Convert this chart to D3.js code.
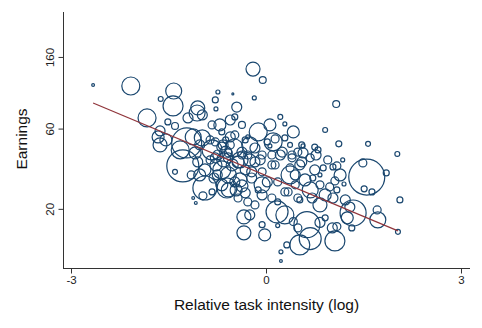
<!DOCTYPE html>
<html>
<head>
<meta charset="utf-8">
<script src="https://cdn.jsdelivr.net/npm/d3@7"></script>
<style>
  body { margin: 0; background: #fff; }
  text { font-family: "Liberation Sans", Arial, Helvetica, sans-serif; }
</style>
</head>
<body>
<svg id="chart" width="482" height="328"></svg>
<script>
var xTicks = [-3, 0, 3];
var yTicks = [20, 60, 160];
var xTitle = "Relative task intensity (log)";
var yTitle = "Earnings";

// [relative task intensity (log), earnings, weight]
var bubbles = [
  [-2.66, 109.0, 2], [-2.08, 107.5, 81], [-1.42, 100.4, 64], [-1.62, 90.0, 6],
  [-1.83, 69.4, 81], [-1.43, 81.8, 100], [-1.06, 74.3, 64], [-1.63, 58.1, 25],
  [-1.66, 53.5, 36], [-1.54, 51.4, 36], [-1.22, 49.3, 225], [-1.28, 36.0, 256],
  [-1.12, 53.5, 64], [-1.40, 33.2, 6], [-1.09, 43.0, 36], [-1.40, 62.2, 12],
  [-1.20, 69.4, 25], [-1.51, 65.7, 9], [-0.94, 26.6, 144], [-1.12, 23.2, 2],
  [-1.08, 21.7, 2], [-0.97, 23.9, 16], [-0.20, 135.6, 49], [-0.05, 116.7, 12],
  [-0.51, 96.4, 1], [-0.18, 91.3, 4], [-0.74, 99.0, 4], [-0.78, 88.8, 9],
  [-0.45, 80.6, 25], [-0.77, 78.5, 4], [-1.05, 79.6, 49], [-0.48, 70.4, 9],
  [0.22, 70.4, 6], [0.29, 64.0, 4], [-0.37, 63.1, 12], [-0.71, 63.1, 36],
  [-0.12, 57.3, 81], [0.42, 57.3, 36], [0.14, 52.1, 16], [0.29, 52.8, 9],
  [-0.28, 53.5, 4], [0.02, 50.0, 9], [0.06, 47.3, 4], [-0.17, 46.0, 25],
  [0.49, 43.5, 16], [0.55, 48.0, 9], [1.08, 84.0, 12], [0.91, 58.9, 6],
  [1.12, 48.7, 9], [1.57, 48.7, 6], [2.02, 42.4, 6], [-0.98, 72.3, 25],
  [-0.68, 46.6, 25], [-0.62, 43.5, 36], [-0.74, 41.8, 25], [-0.55, 48.0, 16],
  [-0.65, 39.1, 49], [-0.52, 36.5, 36], [-0.77, 36.5, 36], [-0.58, 31.8, 64],
  [-0.40, 29.7, 49], [-0.80, 30.5, 25], [-0.68, 27.8, 36], [-0.46, 25.9, 36],
  [-0.32, 34.1, 25], [-0.25, 39.1, 36], [-0.37, 41.8, 16], [-0.09, 39.1, 25],
  [-0.22, 30.5, 25], [-0.43, 23.2, 16], [-0.58, 25.9, 49], [-0.86, 39.1, 16],
  [-0.94, 34.1, 36], [-1.02, 48.0, 25], [-0.86, 51.4, 16], [-0.48, 55.0, 16],
  [-0.68, 57.3, 9], [-0.83, 63.1, 16], [-0.06, 33.2, 16], [0.09, 36.5, 16],
  [0.02, 28.9, 25], [0.37, 35.0, 16], [0.34, 25.2, 16], [0.18, 22.0, 9],
  [0.22, 41.8, 25], [0.40, 40.2, 16], [0.52, 36.5, 25], [0.68, 40.2, 16],
  [0.75, 34.1, 25], [0.60, 29.7, 36], [0.45, 27.8, 16], [0.83, 27.8, 16],
  [0.80, 44.8, 9], [0.95, 39.1, 16], [0.88, 35.0, 9], [1.03, 35.5, 9],
  [0.72, 30.5, 9], [0.71, 23.2, 25], [1.03, 23.2, 25], [1.06, 29.3, 16],
  [1.09, 25.9, 9], [1.20, 28.1, 4], [1.18, 39.1, 4], [1.49, 37.5, 16],
  [1.09, 36.0, 16], [0.98, 27.0, 16], [1.55, 30.9, 324], [1.85, 32.7, 9],
  [1.51, 26.3, 9], [1.63, 25.2, 9], [2.06, 22.6, 9], [2.03, 14.6, 6],
  [1.71, 19.7, 16], [1.72, 17.2, 64], [1.34, 18.9, 169], [0.83, 16.6, 25],
  [0.91, 17.7, 9], [0.63, 16.1, 169], [1.06, 12.9, 100], [0.68, 13.3, 121],
  [1.09, 15.7, 16], [1.32, 15.4, 9], [1.25, 17.7, 36], [1.29, 20.5, 25],
  [0.17, 19.2, 121], [-0.34, 17.9, 49], [-0.34, 14.4, 49], [-0.06, 16.1, 9],
  [0.18, 15.9, 4], [0.32, 12.2, 9], [0.23, 11.1, 4], [0.23, 9.8, 2],
  [0.42, 16.8, 16], [0.49, 15.4, 16], [1.02, 15.4, 25], [-0.17, 21.1, 16],
  [-0.06, 24.2, 25], [-0.60, 26.6, 100], [-0.32, 24.9, 25], [-1.15, 31.8, 16],
  [-0.75, 31.8, 25], [-0.48, 28.9, 25], [-0.37, 27.4, 36], [-0.22, 33.2, 25],
  [-0.17, 38.0, 25], [-0.43, 38.0, 36], [-0.58, 40.2, 25], [-0.78, 40.2, 25],
  [-1.05, 38.0, 25], [0.14, 36.5, 16], [0.18, 28.9, 16], [0.29, 25.2, 16],
  [0.45, 31.8, 25], [0.55, 38.0, 25], [0.49, 23.2, 16], [0.09, 23.2, 16],
  [-0.28, 22.0, 16], [-0.98, 52.8, 64], [-0.78, 50.0, 16], [-0.66, 48.0, 25],
  [-0.58, 43.0, 16], [-0.37, 43.5, 25], [-0.28, 41.8, 16], [-0.06, 41.8, 16],
  [0.09, 41.8, 16], [0.25, 43.5, 25], [0.40, 41.8, 16], [0.75, 46.6, 9],
  [0.57, 47.3, 4], [0.77, 41.8, 25], [0.57, 43.0, 25], [0.11, 50.0, 81],
  [-0.55, 53.5, 25],
  [-0.83, 44.8, 100], [-0.49, 46.0, 81], [-0.25, 48.0, 64], [-0.68, 34.1, 81],
  [-0.06, 27.8, 64], [0.37, 31.8, 81], [0.68, 25.9, 64], [0.83, 21.1, 49],
  [0.29, 18.4, 81], [0.52, 12.2, 100], [-0.02, 14.0, 36], [-0.40, 39.1, 64],
  [-1.02, 31.8, 36], [-1.32, 44.8, 81], [-1.63, 48.0, 49], [0.06, 63.1, 36],
  [-0.55, 67.5, 25], [1.14, 31.8, 36], [0.91, 24.2, 36], [1.22, 22.6, 25],
  [-0.25, 18.4, 25], [-0.62, 51.4, 9], [-0.32, 51.4, 9], [0.37, 48.0, 6],
  [0.52, 22.6, 9], [0.83, 31.8, 4], [-0.12, 25.9, 9], [-0.83, 25.2, 9]
];

// fitted line, end points
var fitLine = [[-2.66, 85.2], [2.03, 14.8]];

var svg = d3.select("#chart");

var x = d3.scaleLinear().domain([-3, 3]).range([71, 461]);
var y = d3.scaleLog().domain([8.9, 296]).range([268, 12]);
var r = d3.scaleSqrt().domain([0, 100]).range([0, 10]);

var axisColor = "#333";

// axis lines
svg.append("line")
  .attr("x1", 63.5).attr("x2", 63.5)
  .attr("y1", 12).attr("y2", 268.5)
  .attr("stroke", axisColor).attr("stroke-width", 1);
svg.append("line")
  .attr("x1", 63).attr("x2", 470)
  .attr("y1", 268.5).attr("y2", 268.5)
  .attr("stroke", axisColor).attr("stroke-width", 1);

// x axis
var gx = svg.append("g")
  .attr("transform", "translate(0,268.5)")
  .call(d3.axisBottom(x).tickValues(xTicks).tickSize(5).tickFormat(d3.format("d")));
gx.select(".domain").remove();
gx.selectAll(".tick line").attr("stroke", axisColor);
gx.selectAll(".tick text")
  .attr("y", 7)
  .attr("fill", "#222")
  .attr("font-size", 11.5)
  .attr("font-family", "Liberation Sans, Arial, sans-serif")
  .text(function(d) { return d < 0 ? "-" + Math.abs(d) : d; });

// y axis
var gy = svg.append("g")
  .attr("transform", "translate(63.5,0)")
  .call(d3.axisLeft(y).tickValues(yTicks).tickSize(5).tickFormat(d3.format("d")));
gy.select(".domain").remove();
gy.selectAll(".tick line").attr("stroke", axisColor);
gy.selectAll(".tick text")
  .attr("x", 0).attr("y", 0).attr("dy", 0)
  .attr("transform", "translate(-10,0) rotate(-90)")
  .attr("text-anchor", "middle")
  .attr("fill", "#222")
  .attr("font-size", 11.5)
  .attr("font-family", "Liberation Sans, Arial, sans-serif");

// titles
svg.append("text")
  .attr("x", 266.5).attr("y", 310)
  .attr("text-anchor", "middle")
  .attr("font-size", 15.5)
  .attr("fill", "#111")
  .text(xTitle);
svg.append("text")
  .attr("transform", "translate(27,139) rotate(-90)")
  .attr("text-anchor", "middle")
  .attr("font-size", 15.5)
  .attr("fill", "#111")
  .text(yTitle);

// bubbles
svg.append("g")
  .selectAll("circle")
  .data(bubbles)
  .join("circle")
  .attr("cx", function(d) { return x(d[0]); })
  .attr("cy", function(d) { return y(d[1]); })
  .attr("r", function(d) { return r(d[2]); })
  .attr("fill", "none")
  .attr("stroke", "#1a476f")
  .attr("stroke-width", 1.2);

// fit line
svg.append("path")
  .datum(fitLine)
  .attr("d", d3.line()
    .x(function(d) { return x(d[0]); })
    .y(function(d) { return y(d[1]); }))
  .attr("fill", "none")
  .attr("stroke", "#90353b")
  .attr("stroke-width", 1.2);
</script>
</body>
</html>
